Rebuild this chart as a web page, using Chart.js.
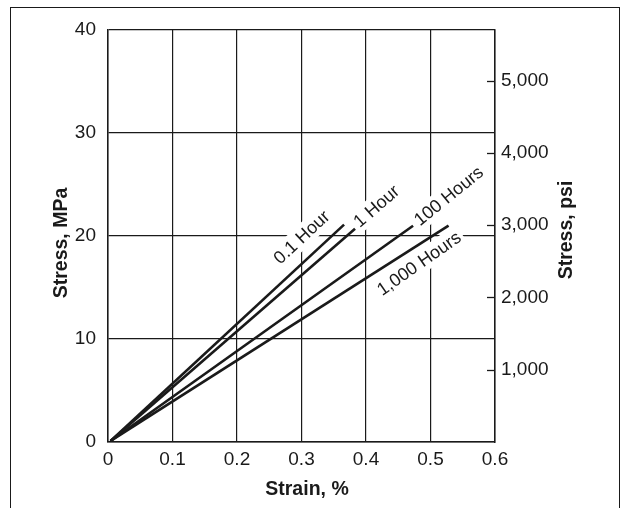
<!DOCTYPE html>
<html>
<head>
<meta charset="utf-8">
<script src="https://cdn.jsdelivr.net/npm/chart.js@4/dist/chart.umd.min.js"></script>
<style>
  html, body { margin: 0; padding: 0; background: #fff; overflow: hidden; }
  #wrap { position: relative; width: 626px; height: 508px; }
  #chart { position: absolute; left: 0; top: 0; }
  #frame { position: absolute; left: 10px; top: 7px; width: 608px; height: 520px; border: 1.5px solid #1a1a1a; pointer-events: none; }
</style>
</head>
<body>
<div id="wrap">
  <canvas id="chart" width="626" height="508"></canvas>
  <div id="frame"></div>
</div>
<script>
// creep curves: stress vs strain for several load durations
const seriesNames = ['0.1 Hour', '1 Hour', '100 Hours', '1,000 Hours'];
const strainStart = [0.004, 0.004, 0.004, 0.004];
const stressStart = [0.1, 0.1, 0.1, 0.1];
const strainEnd = [0.366, 0.383, 0.473, 0.528];
const stressEnd = [21.1, 20.7, 21.0, 21.0];

const strainTicks = [0, 0.1, 0.2, 0.3, 0.4, 0.5, 0.6];
const mpaTicks = [0, 10, 20, 30, 40];
const psiTicks = [1000, 2000, 3000, 4000, 5000];
const psiMax = 5700;

// where each curve label sits (data units) and its slant in degrees
const curveLabels = [
  { text: seriesNames[0], x: 0.300, y: 19.9, angle: 43 },
  { text: seriesNames[1], x: 0.416, y: 22.9, angle: 41 },
  { text: seriesNames[2], x: 0.528, y: 23.9, angle: 39 },
  { text: seriesNames[3], x: 0.482, y: 17.35, angle: 35 },
];

const ink = '#1a1a1a';
const fontFamily = '"Liberation Sans", Arial, Helvetica, sans-serif';
const titleFont = `bold 19.5px ${fontFamily}`;

const datasets = seriesNames.map((name, i) => ({
  label: name,
  data: [{ x: strainStart[i], y: stressStart[i] }, { x: strainEnd[i], y: stressEnd[i] }],
  borderColor: ink,
  borderWidth: 2.6,
  pointRadius: 0,
  fill: false,
  tension: 0,
}));

const labelPlugin = {
  id: 'curveLabels',
  beforeDatasetsDraw(chart) {
    const { ctx, scales } = chart;
    ctx.save();
    ctx.font = `18px ${fontFamily}`;
    ctx.textAlign = 'center';
    ctx.textBaseline = 'middle';
    curveLabels.forEach((item) => {
      const px = scales.x.getPixelForValue(item.x);
      const py = scales.y.getPixelForValue(item.y);
      const w = ctx.measureText(item.text).width;
      ctx.save();
      ctx.translate(px, py);
      ctx.rotate(-item.angle * Math.PI / 180);
      ctx.fillStyle = '#fff';
      ctx.fillRect(-w / 2 - 3, -11, w + 6, 22);
      ctx.fillStyle = ink;
      ctx.fillText(item.text, 0, 1);
      ctx.restore();
    });
    ctx.restore();
  },
  afterDraw(chart) {
    const { ctx, scales, chartArea } = chart;
    const y2 = scales.y2;
    ctx.save();
    ctx.strokeStyle = ink;
    ctx.lineWidth = 1.3;
    psiTicks.forEach((v) => {
      const py = Math.round(y2.getPixelForValue(v)) + 0.5;
      ctx.beginPath();
      ctx.moveTo(chartArea.right - 8, py);
      ctx.lineTo(chartArea.right, py);
      ctx.stroke();
    });

    ctx.font = titleFont;
    ctx.fillStyle = ink;
    ctx.textAlign = 'center';
    ctx.textBaseline = 'alphabetic';
    ctx.fillText('Strain, %', 307, 495);

    // axis titles, both reading bottom to top
    [['Stress, MPa', 67, 243], ['Stress, psi', 572, 230]].forEach(([text, bx, cy]) => {
      ctx.save();
      ctx.translate(bx, cy);
      ctx.rotate(-Math.PI / 2);
      ctx.fillText(text, 0, 0);
      ctx.restore();
    });
    ctx.restore();
  },
};

new Chart(document.querySelector('#chart'), {
  type: 'line',
  data: { datasets },
  plugins: [labelPlugin],
  options: {
    responsive: false,
    animation: false,
    layout: { padding: { top: 30, left: 0, right: 0, bottom: 0 } },
    plugins: { legend: { display: false }, tooltip: { enabled: false } },
    scales: {
      x: {
        type: 'linear',
        min: 0,
        max: 0.6,
        afterBuildTicks: (scale) => { scale.ticks = strainTicks.map((v) => ({ value: v })); },
        afterFit: (scale) => { scale.height = 66; },
        ticks: {
          color: ink,
          font: { family: fontFamily, size: 19 },
          padding: 6,
          maxRotation: 0,
          callback: (v) => (v === 0 ? '0' : v.toFixed(1)),
        },
        grid: { color: ink, lineWidth: 1.2, drawTicks: false },
        border: { color: ink, width: 1.5 },
      },
      y: {
        min: 0,
        max: 40,
        afterBuildTicks: (scale) => { scale.ticks = mpaTicks.map((v) => ({ value: v })); },
        afterFit: (scale) => { scale.width = 108; },
        ticks: { color: ink, font: { family: fontFamily, size: 19 }, padding: 12 },
        grid: { color: ink, lineWidth: 1.2, drawTicks: false },
        border: { color: ink, width: 1.5 },
      },
      y2: {
        position: 'right',
        min: 0,
        max: psiMax,
        afterBuildTicks: (scale) => { scale.ticks = psiTicks.map((v) => ({ value: v })); },
        afterFit: (scale) => { scale.width = 131; },
        ticks: {
          color: ink,
          font: { family: fontFamily, size: 19 },
          padding: 6,
          callback: (v) => v.toLocaleString('en-US'),
        },
        grid: { drawOnChartArea: false, drawTicks: false },
        border: { color: ink, width: 1.5 },
      },
    },
  },
});
</script>
</body>
</html>
